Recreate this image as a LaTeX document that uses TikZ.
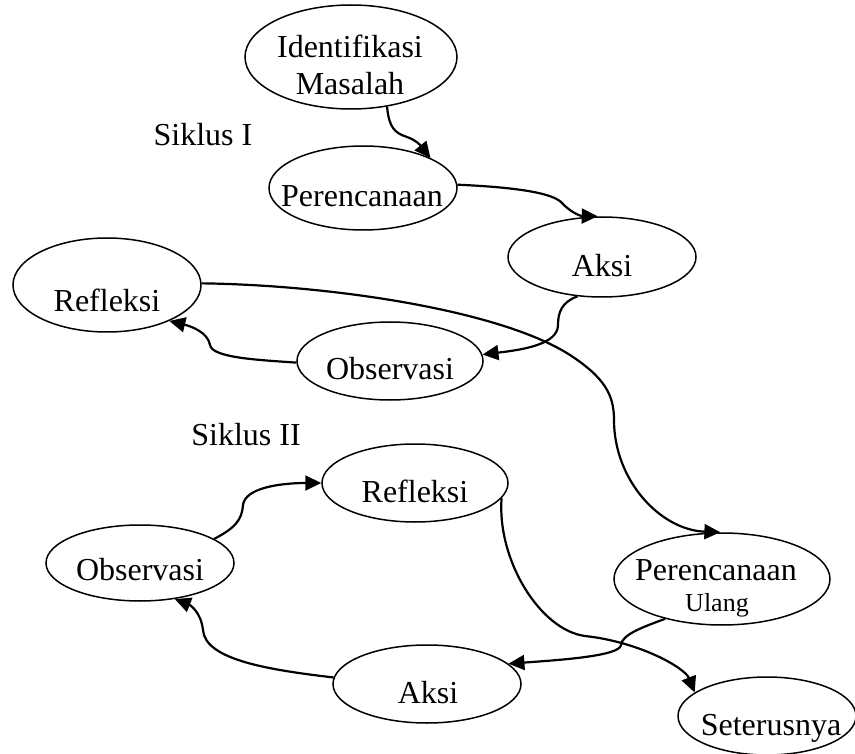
\documentclass[tikz,border=0pt]{standalone}
\usepackage{fontspec}
\setmainfont{Liberation Serif}
\usetikzlibrary{arrows.meta,shapes.geometric}
\begin{document}
\begin{tikzpicture}[x=1pt,y=-1pt,
  ell/.style={draw, line width=1.5pt, ellipse, inner sep=0pt},
  lbl/.style={anchor=base, inner sep=0pt, font=\fontsize{32}{36}\selectfont},
  lblsmall/.style={anchor=base, inner sep=0pt, font=\fontsize{26}{30}\selectfont},
  conn/.style={line width=2.2pt, -{Triangle[length=16pt,width=15pt]}}]
\useasboundingbox (0,0) rectangle (855,754);
% ellipses
\node[ell, minimum width=212pt, minimum height=104pt] (id) at (351,57) {};
\node[ell, minimum width=188pt, minimum height=84pt] (pe) at (363,188) {};
\node[ell, minimum width=188pt, minimum height=80pt] (ak) at (602,257) {};
\node[ell, minimum width=188pt, minimum height=94pt] (re) at (107,285) {};
\node[ell, minimum width=186pt, minimum height=78pt] (ob) at (390,361) {};
\node[ell, minimum width=186pt, minimum height=78pt] (re2) at (415,483) {};
\node[ell, minimum width=188pt, minimum height=76pt] (ob2) at (140,563) {};
\node[ell, minimum width=216pt, minimum height=92pt] (pu) at (722,579) {};
\node[ell, minimum width=188pt, minimum height=78pt] (ak2) at (427,684) {};
\node[ell, minimum width=178pt, minimum height=78pt] (se) at (767,716) {};
% texts
\node[lbl] (idT1) at (350,58) {Identifikasi};
\node[lbl] (idT2) at (350,95) {Masalah};
\node[lbl] (peT) at (362,207) {Perencanaan};
\node[lbl] (akT) at (602,277) {Aksi};
\node[lbl] (reT) at (107,312) {Refleksi};
\node[lbl] (obT) at (390,380) {Observasi};
\node[lbl] (s1) at (203,146) {Siklus I};
\node[lbl] (s2) at (246,445) {Siklus II};
\node[lbl] (re2T) at (415,502) {Refleksi};
\node[lbl] (ob2T) at (140,580) {Observasi};
\node[lbl] (puT1) at (716,580) {Perencanaan};
\node[lblsmall] (puT2) at (717,611) {Ulang};
\node[lbl] (ak2T) at (428,703) {Aksi};
\node[lbl] (seT) at (771,735) {Seterusnya};
% connectors
\draw[conn] (id.-54) .. controls (389,128) and (395,133) .. (407,137)
  .. controls (419,141) and (424,150) .. (pe.24);
\draw[conn] (pe.2) .. controls (510,187) and (550,192) .. (561,202)
  .. controls (570,212) and (580,216) .. (ak.96);
\draw[conn] (ak.-122) .. controls (562,302) and (558,312) .. (558,325)
  .. controls (558,345) and (520,350) .. (ob.4);
\draw[conn] (ob.181) .. controls (260,360) and (212,358) .. (210,345)
  .. controls (208,332) and (190,326) .. (re.-30);
\draw[conn] (re.1) .. controls (330,285) and (500,310) .. (570,355)
  .. controls (605,378) and (614,395) .. (614,420)
  .. controls (614,480) and (660,530) .. (pu.92);
\draw[conn] (ob2.18) .. controls (235,528) and (242,520) .. (243,505)
  .. controls (245,488) and (280,483) .. (re2.180);
\draw[conn] (ak2.176) .. controls (270,670) and (205,660) .. (203,630)
  .. controls (201,612) and (190,605) .. (ob2.-46);
\draw[conn] (pu.-145) .. controls (640,628) and (622,635) .. (621,645)
  .. controls (620,656) and (560,660) .. (ak2.14);
\draw[conn] (re2.-10) .. controls (497,560) and (540,630) .. (585,636)
  .. controls (640,642) and (685,668) .. (se.162);
\end{tikzpicture}
\end{document}
